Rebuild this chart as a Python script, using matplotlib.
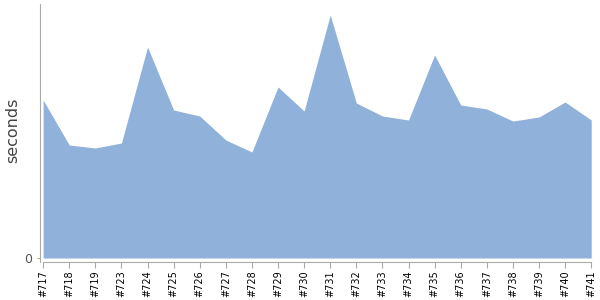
import numpy as np
import matplotlib
matplotlib.use("Agg")
import matplotlib.pyplot as plt

# builds and timings (relative units)
builds = ["#717", "#718", "#719", "#723", "#724", "#725", "#726", "#727",
          "#728", "#729", "#730", "#731", "#732", "#733", "#734", "#735",
          "#736", "#737", "#738", "#739", "#740", "#741"]
seconds = [158, 113, 110, 115, 211, 148, 142, 118, 106, 171, 147, 243,
           155, 142, 138, 203, 153, 149, 137, 141, 156, 138]

x = np.arange(len(builds))

fig = plt.figure(figsize=(6, 3), dpi=100)
ax = fig.add_axes([40 / 600, 1 - 262 / 300, 552 / 600, 258 / 300])

ax.fill_between(x, 0, seconds, color="#8FB1DA", linewidth=0)

ax.set_xlim(-0.12, len(builds) - 1 + 0.03)
ax.set_ylim(-4, 254)

ax.set_xticks(x)
ax.set_xticklabels(builds, rotation=90, fontsize=7)
ax.set_yticks([0])
ax.set_yticklabels(["0"], fontsize=9, color="#555555")
ax.tick_params(axis="x", length=4, color="#aaaaaa", pad=2)
ax.tick_params(axis="y", length=2, color="#aaaaaa", pad=4)

ax.set_ylabel("seconds", fontsize=11.5, color="#444444")
ax.yaxis.set_label_coords(-0.035, 0.512)

for s in ["top", "right"]:
    ax.spines[s].set_visible(False)
ax.spines["left"].set_color("#aaaaaa")
ax.spines["bottom"].set_color("#aaaaaa")
ax.spines["bottom"].set_bounds(0, len(builds) - 1)

fig.savefig("out.png", dpi=100)
